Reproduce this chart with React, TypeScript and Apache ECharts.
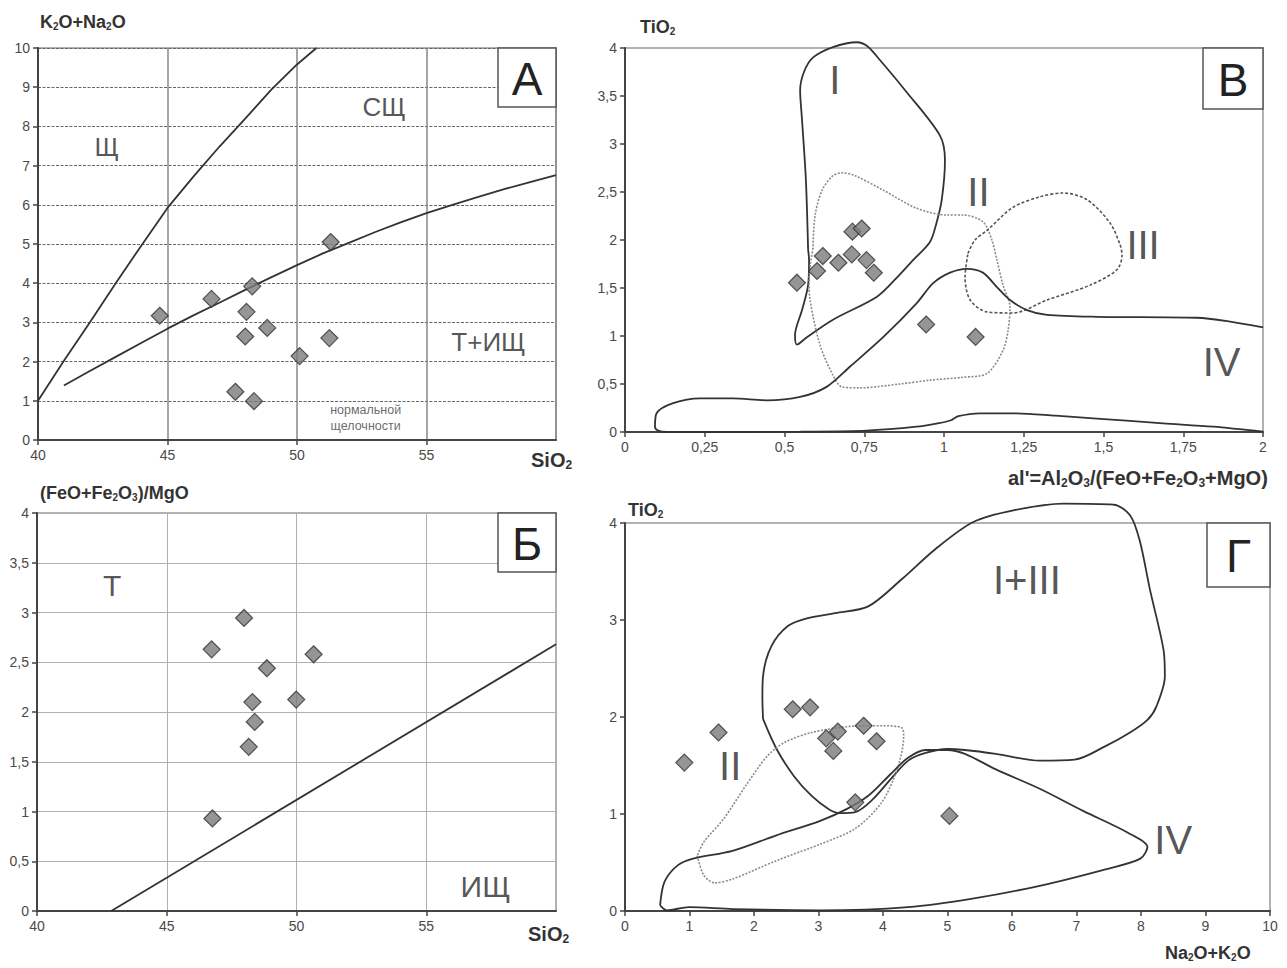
import React, { useEffect, useRef } from 'react';
import * as echarts from 'echarts';

const FONT = '"Liberation Sans", Arial, Helvetica, sans-serif';

// ---------- Panel А : K2O+Na2O vs SiO2 ----------
const aSiO2 = [44.7, 46.7, 48.27, 48.05, 48.0, 48.85, 47.62, 48.34, 50.1, 51.25, 51.3];
const aAlkali = [3.17, 3.6, 3.92, 3.27, 2.64, 2.86, 1.23, 0.99, 2.14, 2.6, 5.05];
const aAlkalineLine = [[40, 1], [41, 2.02], [42, 3.0], [43, 4.0], [44, 4.97], [45, 5.92], [46, 6.72], [47, 7.48], [48, 8.2], [49, 8.93], [50, 9.58], [50.75, 10]];
const aSubalkalineLine = [[41, 1.39], [42, 1.76], [43, 2.12], [44, 2.48], [45, 2.84], [46, 3.18], [47, 3.5], [48, 3.83], [49, 4.15], [50, 4.46], [51, 4.76], [52, 5.03], [53, 5.3], [54, 5.55], [55, 5.79], [56, 6.0], [57, 6.2], [58, 6.4], [59, 6.58], [60, 6.76]];
const aFieldLabels: [string, number, number][] = [['Щ', 42.65, 7.47], ['СЩ', 53.36, 8.49], ['Т+ИЩ', 57.39, 2.49]];
const aNoteLabels: [string, number, number][] = [['нормальной\nщелочности', 52.65, 0.56]];

// ---------- Panel В : TiO2 vs al' ----------
const bAl = [0.539, 0.602, 0.62, 0.669, 0.711, 0.757, 0.78, 0.944, 1.099, 0.713, 0.742];
const bTi = [1.555, 1.677, 1.833, 1.763, 1.85, 1.791, 1.659, 1.12, 0.99, 2.087, 2.12];
const bFieldI = [[0.574, 1.9], [0.567, 2.63], [0.555, 3.25], [0.549, 3.56], [0.561, 3.75], [0.589, 3.9], [0.652, 4.01], [0.727, 4.06], [0.759, 4.02], [0.799, 3.875], [0.878, 3.56], [0.987, 3.09], [1.003, 2.83], [0.993, 2.42], [0.975, 2.16], [0.956, 1.98], [0.903, 1.79], [0.85, 1.6], [0.79, 1.41], [0.652, 1.17], [0.571, 0.99], [0.539, 0.91], [0.533, 1.01], [0.555, 1.27], [0.574, 1.53], [0.577, 1.79], [0.574, 1.9]];
const bFieldII = [[0.589, 1.9], [0.596, 2.26], [0.618, 2.52], [0.652, 2.67], [0.68, 2.7], [0.721, 2.67], [0.809, 2.52], [0.915, 2.33], [1.009, 2.26], [1.06, 2.26], [1.122, 2.19], [1.15, 2.0], [1.166, 1.79], [1.185, 1.53], [1.207, 1.3], [1.201, 1.06], [1.185, 0.85], [1.135, 0.61], [1.06, 0.57], [0.956, 0.54], [0.862, 0.5], [0.737, 0.46], [0.68, 0.47], [0.652, 0.59], [0.611, 0.91], [0.58, 1.375], [0.577, 1.58], [0.583, 1.79], [0.589, 1.9]];
const bFieldIII = [[1.075, 1.86], [1.097, 2.0], [1.135, 2.1], [1.216, 2.34], [1.301, 2.45], [1.373, 2.49], [1.448, 2.42], [1.52, 2.18], [1.552, 1.95], [1.558, 1.84], [1.542, 1.69], [1.458, 1.53], [1.323, 1.375], [1.216, 1.24], [1.135, 1.25], [1.082, 1.375], [1.066, 1.61], [1.075, 1.86]];
const bFieldIV = [[2.0, 1.09], [1.897, 1.15], [1.793, 1.19], [1.48, 1.2], [1.323, 1.22], [1.26, 1.27], [1.207, 1.375], [1.166, 1.51], [1.122, 1.66], [1.072, 1.7], [1.019, 1.66], [0.966, 1.55], [0.914, 1.34], [0.81, 0.99], [0.705, 0.68], [0.632, 0.47], [0.549, 0.365], [0.444, 0.33], [0.339, 0.35], [0.235, 0.35], [0.151, 0.3], [0.099, 0.195], [0.094, 0.055], [0.104, 0.014], [0.13, 0.0], [0.35, 0.0], [0.55, 0.003], [0.758, 0.014], [0.914, 0.055], [0.98, 0.09], [1.02, 0.12], [1.045, 0.165], [1.113, 0.195], [1.217, 0.195], [1.35, 0.17], [1.479, 0.14], [1.687, 0.09], [1.844, 0.055], [2.0, 0.003]];
const bFieldLabels: [string, number, number][] = [['I', 0.658, 3.67], ['II', 1.108, 2.5], ['III', 1.624, 1.95], ['IV', 1.87, 0.73]];

// ---------- Panel Б : (FeO+Fe2O3)/MgO vs SiO2 ----------
const cSiO2 = [47.98, 46.73, 50.66, 48.86, 48.3, 49.99, 48.39, 48.16, 46.76];
const cFeMg = [2.945, 2.63, 2.58, 2.44, 2.1, 2.125, 1.9, 1.65, 0.93];
const cBoundary = [[42.86, 0], [60, 2.68]];
const cFieldLabels: [string, number, number][] = [['Т', 42.9, 3.27], ['ИЩ', 57.28, 0.25]];

// ---------- Panel Г : TiO2 vs Na2O+K2O ----------
const dAlk = [0.92, 1.45, 2.6, 2.87, 3.12, 3.3, 3.23, 3.7, 3.9, 3.57, 5.03];
const dTi = [1.53, 1.84, 2.08, 2.1, 1.78, 1.85, 1.65, 1.91, 1.75, 1.12, 0.98];
const dFieldI_III = [[2.14, 1.98], [2.13, 2.2], [2.14, 2.42], [2.27, 2.73], [2.53, 2.94], [2.84, 3.02], [3.26, 3.07], [3.77, 3.14], [4.29, 3.42], [4.81, 3.73], [5.4, 4.01], [6.02, 4.13], [6.8, 4.2], [7.57, 4.19], [7.83, 4.08], [7.98, 3.82], [8.14, 3.31], [8.35, 2.69], [8.37, 2.42], [8.24, 2.11], [8.1, 1.97], [7.83, 1.84], [7.45, 1.7], [6.97, 1.56], [6.43, 1.55], [5.75, 1.62], [5.27, 1.66], [5.0, 1.67], [4.66, 1.63], [4.39, 1.55], [4.12, 1.36], [3.84, 1.15], [3.57, 1.02], [3.33, 1.01], [3.16, 1.05], [2.89, 1.19], [2.62, 1.39], [2.35, 1.67], [2.14, 1.98]];
const dFieldII = [[1.12, 0.57], [1.22, 0.37], [1.39, 0.29], [1.67, 0.33], [2.35, 0.52], [3.03, 0.69], [3.57, 0.85], [3.98, 1.12], [4.22, 1.46], [4.32, 1.8], [4.29, 1.89], [3.98, 1.91], [3.44, 1.9], [2.89, 1.84], [2.48, 1.74], [2.21, 1.6], [1.87, 1.29], [1.53, 0.95], [1.22, 0.71], [1.12, 0.57]];
const dFieldIV = [[0.544, 0.058], [0.612, 0.3], [0.816, 0.47], [1.054, 0.54], [1.667, 0.62], [2.347, 0.78], [3.027, 0.93], [3.435, 1.05], [3.776, 1.19], [4.116, 1.41], [4.388, 1.58], [4.66, 1.66], [5.0, 1.66], [5.27, 1.62], [5.75, 1.46], [6.43, 1.26], [7.11, 1.03], [7.79, 0.81], [8.1, 0.66], [7.99, 0.54], [7.45, 0.43], [6.43, 0.26], [5.41, 0.13], [4.39, 0.04], [3.03, 0.007], [1.67, 0.02], [0.99, 0.04], [0.65, 0.007], [0.544, 0.058]];
const dFieldLabels: [string, number, number][] = [['I+III', 6.23, 3.41], ['II', 1.63, 1.5], ['IV', 8.5, 0.73]];

// ---------- helpers ----------
const zip = (xs: number[], ys: number[]) => xs.map((x, i) => [x, ys[i]]);
const comma = (v: number) => String(v).replace('.', ',');

function valueAxis(gridIndex: number, min: number, max: number, interval: number, splitLine: any, hideMax = false) {
  return {
    type: 'value', gridIndex, min, max, interval,
    axisLine: { show: true, onZero: false, lineStyle: { color: '#444', width: 2 } },
    axisTick: { show: true, length: 5, lineStyle: { color: '#444', width: 1.5 } },
    axisLabel: {
      color: '#4a4a4a', fontSize: 14, fontFamily: FONT, margin: 8,
      showMaxLabel: !hideMax,
      formatter: (v: number) => (hideMax && v === max ? '' : comma(v)),
    },
    splitLine,
  };
}

function curve(gi: number, data: number[][], style: any, extra: any = {}) {
  return {
    type: 'line', xAxisIndex: gi, yAxisIndex: gi, data, showSymbol: false, symbol: 'none',
    smooth: 0.3, lineStyle: style, silent: true, z: 2, animation: false, ...extra,
  };
}

function diamonds(gi: number, data: number[][]) {
  return {
    type: 'scatter', xAxisIndex: gi, yAxisIndex: gi, data, symbol: 'diamond', symbolSize: 17,
    itemStyle: { color: '#7b7b7b', borderColor: '#333', borderWidth: 1.2 }, z: 5, silent: true,
  };
}

function labels(gi: number, items: [string, number, number][], fontSize: number, extra: any = {}) {
  return {
    type: 'scatter', xAxisIndex: gi, yAxisIndex: gi, symbol: 'circle', symbolSize: 1,
    itemStyle: { color: 'rgba(0,0,0,0)' }, silent: true, z: 6, clip: false,
    data: items.map(([name, x, y]) => ({ name, value: [x, y] })),
    label: {
      show: true, position: 'inside', formatter: (p: any) => p.name,
      fontSize, fontFamily: FONT, color: '#2a2a2a', ...extra,
    },
  };
}

function chemText(x: number, y: number, formula: string, size: number) {
  const parts = formula.split(/(_\d)/).filter((p) => p.length > 0);
  const text = parts.map((p) => (p[0] === '_' ? `{s|${p.slice(1)}}` : `{b|${p}}`)).join('');
  return {
    type: 'text', x, y, z: 100,
    style: {
      text,
      rich: {
        b: { fontSize: size, fontWeight: 'bold', fontFamily: FONT, fill: '#333', color: '#333' },
        s: { fontSize: Math.round(size * 0.58), fontWeight: 'bold', fontFamily: FONT, fill: '#333', color: '#333', padding: [Math.round(size * 0.5), 0, 0, 0] },
      },
      align: 'left', verticalAlign: 'middle', textAlign: 'left', textVerticalAlign: 'middle',
    },
  };
}

function letterBox(x: number, y: number, w: number, h: number, letter: string) {
  return [
    { type: 'rect', z: 100, shape: { x, y, width: w, height: h }, style: { fill: '#fff', stroke: '#555', lineWidth: 1.5 } },
    {
      type: 'text', z: 101, x: x + w / 2, y: y + h / 2 + 1,
      style: { text: letter, fontSize: 46, fontFamily: FONT, fill: '#222', align: 'center', verticalAlign: 'middle', textAlign: 'center', textVerticalAlign: 'middle' },
    },
  ];
}

const gridBase = { show: true, borderColor: '#999', borderWidth: 1.5, backgroundColor: 'transparent', containLabel: false };

const solid = { color: '#333', width: 1.8, type: 'solid' };
const dotted = { color: '#8a8a8a', width: 1.6, type: [2, 1.5] };
const dashed = { color: '#555', width: 1.6, type: [3, 2] };

const option: any = {
  animation: false,
  backgroundColor: '#fff',
  grid: [
    { ...gridBase, left: 38, top: 48, width: 518, height: 392 },
    { ...gridBase, left: 625, top: 48, width: 638, height: 384 },
    { ...gridBase, left: 37, top: 513, width: 519, height: 398 },
    { ...gridBase, left: 625, top: 523, width: 645, height: 388 },
  ],
  xAxis: [
    valueAxis(0, 40, 60, 5, { show: true, lineStyle: { color: '#888', width: 1.5, type: 'solid' } }, true),
    valueAxis(1, 0, 2, 0.25, { show: false }),
    valueAxis(2, 40, 60, 5, { show: true, lineStyle: { color: '#b0b0b0', width: 1, type: 'solid' } }, true),
    valueAxis(3, 0, 10, 1, { show: false }),
  ],
  yAxis: [
    valueAxis(0, 0, 10, 1, { show: true, lineStyle: { color: '#666', width: 1, type: [3, 1.5] } }),
    valueAxis(1, 0, 4, 0.5, { show: false }),
    valueAxis(2, 0, 4, 0.5, { show: true, lineStyle: { color: '#b0b0b0', width: 1, type: 'solid' } }),
    valueAxis(3, 0, 4, 1, { show: false }),
  ],
  series: [
    // А
    curve(0, aAlkalineLine, solid, { smooth: false }),
    curve(0, aSubalkalineLine, solid, { smooth: false }),
    diamonds(0, zip(aSiO2, aAlkali)),
    labels(0, aFieldLabels, 26),
    labels(0, aNoteLabels, 12.5, { lineHeight: 16, color: '#444' }),
    // В
    curve(1, bFieldI, solid, { clip: false }),
    curve(1, bFieldII, dotted),
    curve(1, bFieldIII, dashed),
    curve(1, bFieldIV, solid),
    diamonds(1, zip(bAl, bTi)),
    labels(1, bFieldLabels, 40),
    // Б
    curve(2, cBoundary, solid, { smooth: false }),
    diamonds(2, zip(cSiO2, cFeMg)),
    labels(2, cFieldLabels, 30),
    // Г
    curve(3, dFieldI_III, solid, { clip: false }),
    curve(3, dFieldII, dotted),
    curve(3, dFieldIV, solid),
    diamonds(3, zip(dAlk, dTi)),
    labels(3, dFieldLabels, 40),
  ],
  graphic: {
    elements: [
      ...letterBox(498, 48, 58, 59, 'А'),
      ...letterBox(1203, 48, 60, 61, 'В'),
      ...letterBox(498, 513, 58, 59, 'Б'),
      ...letterBox(1207, 523, 63, 64, 'Г'),
      chemText(40, 22, 'K_2O+Na_2O', 18),
      chemText(531, 460, 'SiO_2', 20),
      chemText(640, 27, 'TiO_2', 18),
      chemText(1008, 478, "al'=Al_2O_3/(FeO+Fe_2O_3+MgO)", 20),
      chemText(40, 493, '(FeO+Fe_2O_3)/MgO', 18),
      chemText(528, 934, 'SiO_2', 20),
      chemText(628, 510, 'TiO_2', 18),
      chemText(1165, 953, 'Na_2O+K_2O', 18),
    ],
  },
};

export default function App() {
  const ref = useRef<HTMLDivElement>(null);
  useEffect(() => {
    if (!ref.current) return;
    const chart = echarts.init(ref.current, null, { renderer: 'svg' });
    chart.setOption(option);
    return () => chart.dispose();
  }, []);
  return (
    <div
      ref={ref}
      style={{ position: 'fixed', left: 0, top: 0, width: 1287, height: 968, background: '#fff' }}
    />
  );
}
